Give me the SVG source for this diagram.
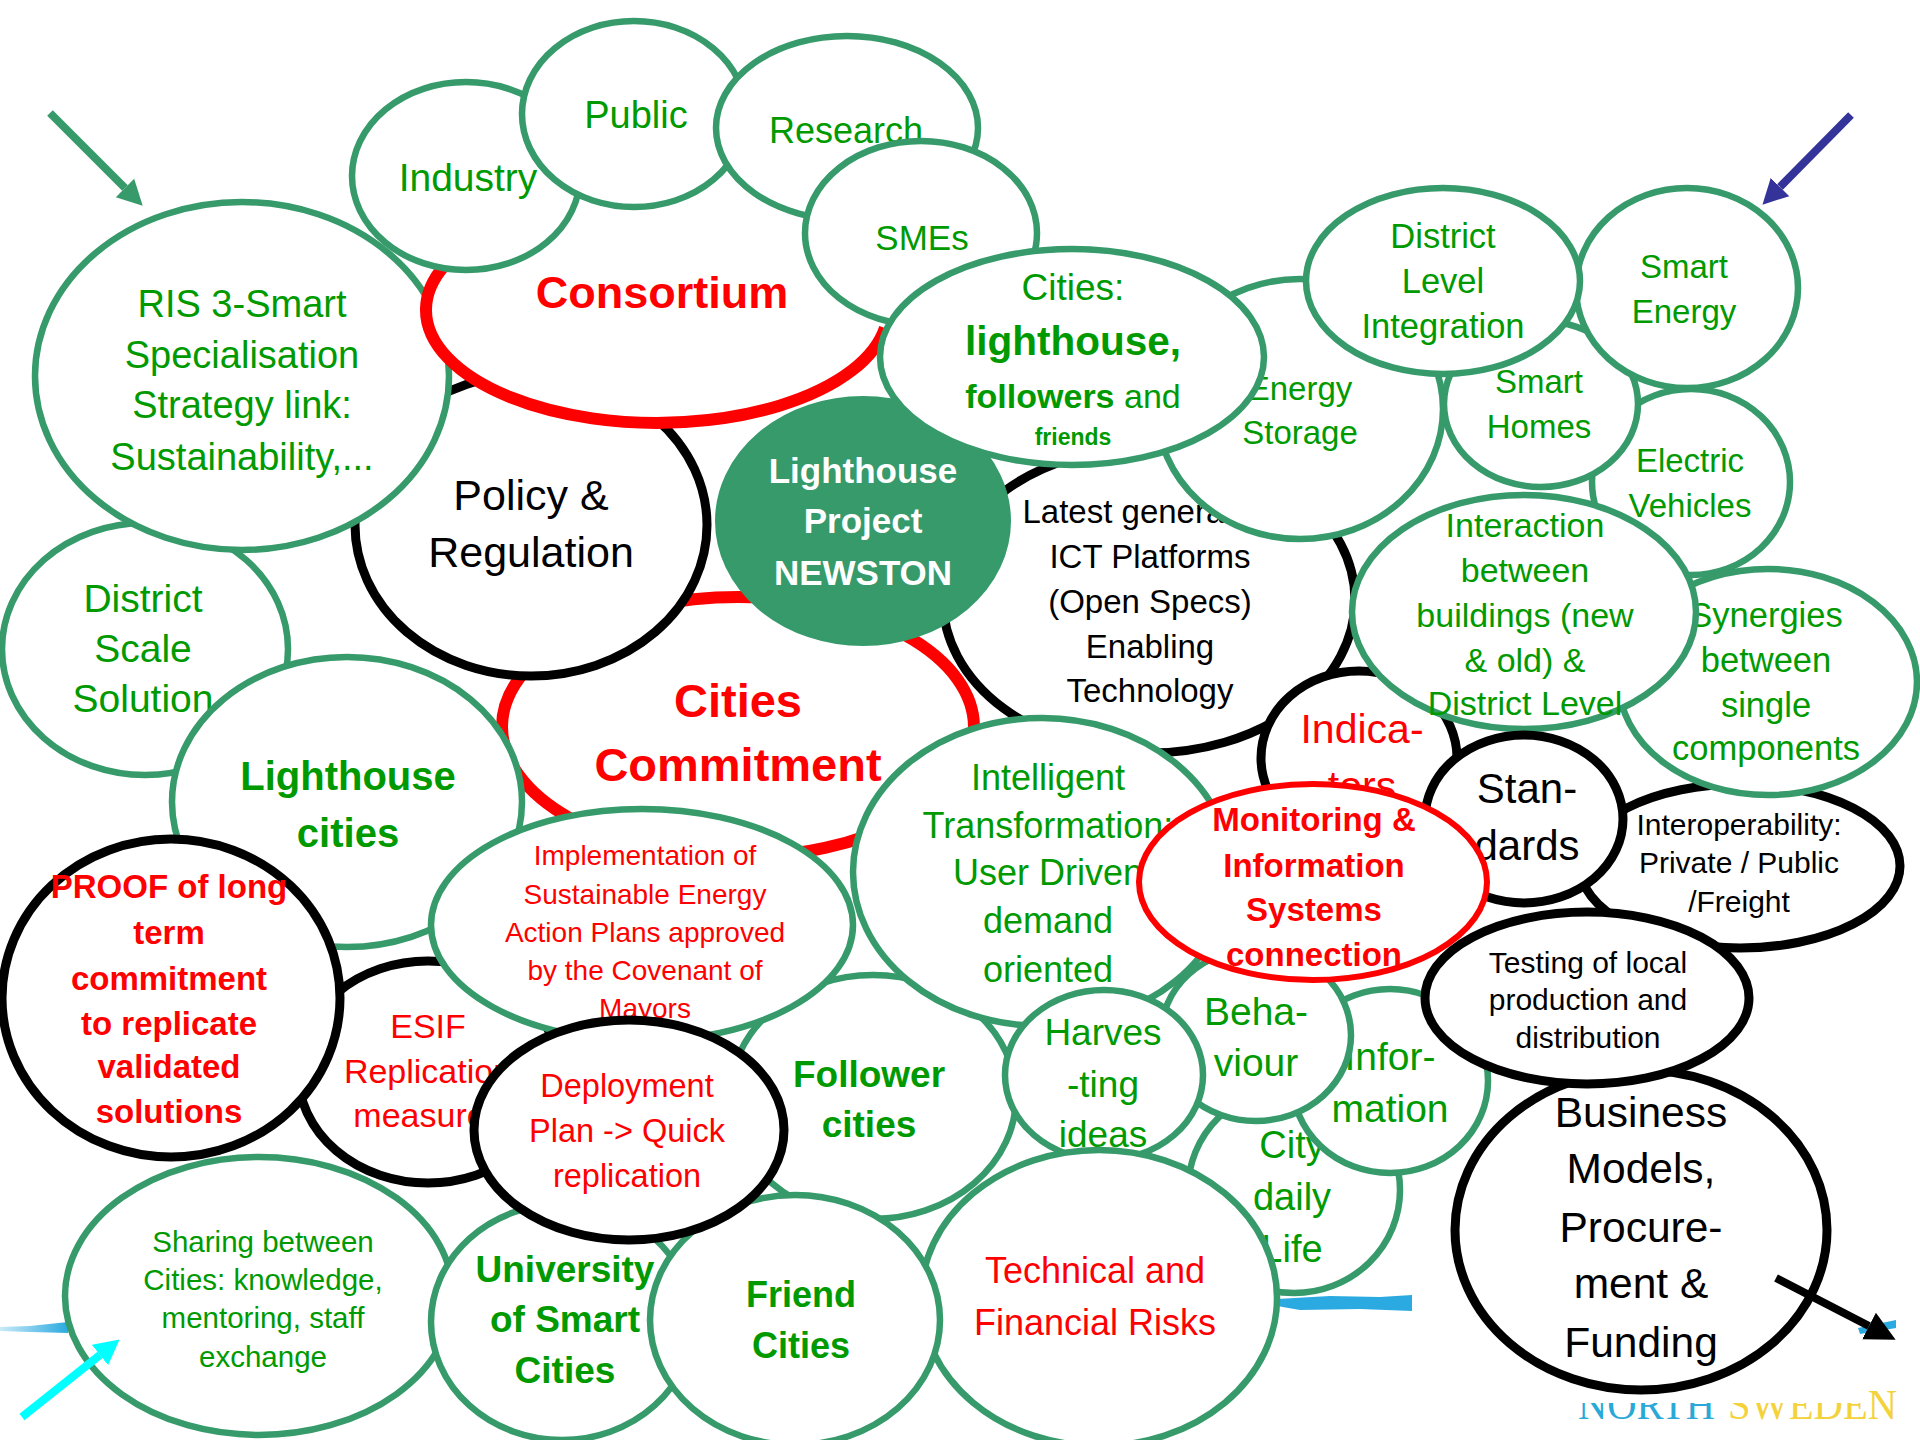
<svg xmlns="http://www.w3.org/2000/svg" width="1920" height="1440" viewBox="0 0 1920 1440">
  <style>
    .ng { fill: #fff; stroke: #369a6b; stroke-width: 6.5; }
    .nk { fill: #fff; stroke: #000; stroke-width: 9; }
    .nr { fill: #fff; stroke: #f00; stroke-width: 12; }
    .nr6 { fill: #fff; stroke: #f00; stroke-width: 6; }
    .rim { fill: none; stroke: #f00; stroke-width: 12; }
    .hub { fill: #369a6b; stroke: #369a6b; stroke-width: 2; }
    text { font-family: "Liberation Sans", Arial, sans-serif; text-anchor: middle; }
    .tg { fill: #009a00; }
    .tr { fill: #f00; }
    .tk { fill: #000; }
    .tw { fill: #fff; }
    .b { font-weight: bold; }
    .arrow { fill: none; stroke-width: 8; }
  </style>
  <defs>
    <marker id="head-green" markerUnits="userSpaceOnUse" viewBox="0 -14 26 28" refX="0" refY="0" markerWidth="26" markerHeight="28" orient="auto">
      <path d="M0,-13 L25,0 L0,13 z" fill="#369a6b"/>
    </marker>
    <marker id="head-blue" markerUnits="userSpaceOnUse" viewBox="0 -14 26 28" refX="0" refY="0" markerWidth="26" markerHeight="28" orient="auto">
      <path d="M0,-13 L25,0 L0,13 z" fill="#333399"/>
    </marker>
    <marker id="head-cyan" markerUnits="userSpaceOnUse" viewBox="0 -14 26 28" refX="0" refY="0" markerWidth="26" markerHeight="28" orient="auto">
      <path d="M0,-13 L25,0 L0,13 z" fill="#00ffff"/>
    </marker>
    <marker id="head-black" markerUnits="userSpaceOnUse" viewBox="0 -16 31 32" refX="0" refY="0" markerWidth="31" markerHeight="32" orient="auto">
      <path d="M0,-15 L30,0 L0,15 z" fill="#000"/>
    </marker>
    <linearGradient id="brush-fade" x1="0" y1="0" x2="1" y2="0">
      <stop offset="0" stop-color="#2aaae0" stop-opacity="0.25"/>
      <stop offset="1" stop-color="#2aaae0" stop-opacity="1"/>
    </linearGradient>
    <clipPath id="logo-clip">
      <rect x="1560" y="1403" width="360" height="37"/>
      <rect x="1866" y="1380" width="54" height="60"/>
    </clipPath>
  </defs>

  <!-- brush strokes behind the bubbles -->
  <g id="brush">
    <polygon points="0,1327 30,1326 68,1322 68,1333 30,1332 0,1331" fill="url(#brush-fade)"/>
    <polygon points="1277,1299 1330,1296 1380,1297 1412,1295 1412,1311 1360,1309 1300,1310 1277,1306" fill="#2aaae0"/>
    <polygon points="1858,1328 1896,1320 1896,1328 1860,1334" fill="#2aaae0"/>
  </g>

  <g id="cities-commitment">
    <ellipse class="nr" cx="738" cy="727" rx="236" ry="130"/>
    <text class="tr b" font-size="47" x="738" y="717">Cities</text>
    <text class="tr b" font-size="47" x="738" y="781">Commitment</text>
  </g>

  <g id="policy">
    <ellipse class="nk" cx="531" cy="525" rx="176" ry="151"/>
    <text class="tk" font-size="43" x="531" y="510">Policy &amp;</text>
    <text class="tk" font-size="43" x="531" y="567">Regulation</text>
  </g>

  <g id="district-scale">
    <ellipse class="ng" cx="145" cy="649" rx="143" ry="126"/>
    <text class="tg" font-size="39" x="143" y="612">District</text>
    <text class="tg" font-size="39" x="143" y="662">Scale</text>
    <text class="tg" font-size="39" x="143" y="712">Solution</text>
  </g>

  <g id="ris3">
    <ellipse class="ng" cx="242" cy="376" rx="207" ry="174"/>
    <text class="tg" font-size="38" x="242" y="317">RIS 3-Smart</text>
    <text class="tg" font-size="38" x="242" y="368">Specialisation</text>
    <text class="tg" font-size="38" x="242" y="418">Strategy link:</text>
    <text class="tg" font-size="38" x="242" y="470">Sustainability,...</text>
  </g>

  <!-- the red rim shows only on its lower side; the top runs under the partner bubbles -->
  <g id="consortium">
    <ellipse cx="657" cy="310" rx="231" ry="113" fill="#fff"/>
    <path class="rim" d="M445,265 A231,113 0 1 0 885,328"/>
    <text class="tr b" font-size="45" x="662" y="308">Consortium</text>
  </g>

  <g id="industry">
    <ellipse class="ng" cx="466" cy="176" rx="114" ry="94"/>
    <text class="tg" font-size="39" x="468" y="191">Industry</text>
  </g>

  <g id="public">
    <ellipse class="ng" cx="634" cy="114" rx="112" ry="93"/>
    <text class="tg" font-size="38" x="636" y="128">Public</text>
  </g>

  <g id="research">
    <ellipse class="ng" cx="847" cy="128" rx="131" ry="92"/>
    <text class="tg" font-size="36" x="846" y="143">Research</text>
  </g>

  <g id="smes">
    <ellipse class="ng" cx="921" cy="233" rx="116" ry="92"/>
    <text class="tg" font-size="35" x="922" y="250">SMEs</text>
  </g>

  <g id="ict-platforms">
    <ellipse class="nk" cx="1149" cy="600" rx="206" ry="153"/>
    <text class="tk" font-size="33" x="1150" y="523">Latest generation</text>
    <text class="tk" font-size="33" x="1150" y="568">ICT Platforms</text>
    <text class="tk" font-size="33" x="1150" y="613">(Open Specs)</text>
    <text class="tk" font-size="33" x="1150" y="658">Enabling</text>
    <text class="tk" font-size="33" x="1150" y="702">Technology</text>
  </g>

  <g id="lighthouse-project">
    <ellipse class="hub" cx="863" cy="521" rx="147" ry="124"/>
    <text class="tw b" font-size="35" x="863" y="483">Lighthouse</text>
    <text class="tw b" font-size="35" x="863" y="533">Project</text>
    <text class="tw b" font-size="35" x="863" y="585">NEWSTON</text>
  </g>

  <g id="energy-storage">
    <ellipse class="ng" cx="1300" cy="409" rx="143" ry="130"/>
    <text class="tg" font-size="33" x="1300" y="400">Energy</text>
    <text class="tg" font-size="33" x="1300" y="444">Storage</text>
  </g>

  <g id="electric-vehicles">
    <ellipse class="ng" cx="1691" cy="482" rx="99" ry="93"/>
    <text class="tg" font-size="33" x="1690" y="472">Electric</text>
    <text class="tg" font-size="33" x="1690" y="517">Vehicles</text>
  </g>

  <g id="smart-homes">
    <ellipse class="ng" cx="1541" cy="404" rx="97" ry="83"/>
    <text class="tg" font-size="33" x="1539" y="393">Smart</text>
    <text class="tg" font-size="33" x="1539" y="438">Homes</text>
  </g>

  <g id="smart-energy">
    <ellipse class="ng" cx="1687" cy="288" rx="111" ry="100"/>
    <text class="tg" font-size="33" x="1684" y="278">Smart</text>
    <text class="tg" font-size="33" x="1684" y="323">Energy</text>
  </g>

  <g id="district-level">
    <ellipse class="ng" cx="1443" cy="281" rx="137" ry="93"/>
    <text class="tg" font-size="34.5" x="1443" y="248">District</text>
    <text class="tg" font-size="34.5" x="1443" y="293">Level</text>
    <text class="tg" font-size="34.5" x="1443" y="338">Integration</text>
  </g>

  <g id="cities-lighthouse">
    <ellipse class="ng" cx="1072" cy="357" rx="192" ry="108"/>
    <text class="tg" font-size="37" x="1073" y="300">Cities:</text>
    <text class="tg b" font-size="40.5" x="1073" y="355">lighthouse,</text>
    <text class="tg" font-size="34" x="1073" y="408"><tspan class="b">followers</tspan> and</text>
    <text class="tg b" font-size="23" x="1073" y="445">friends</text>
  </g>

  <g id="interoperability">
    <ellipse class="nk" cx="1740" cy="866" rx="160" ry="82"/>
    <text class="tk" font-size="30" x="1739" y="835">Interoperability:</text>
    <text class="tk" font-size="30" x="1739" y="873">Private / Public</text>
    <text class="tk" font-size="30" x="1739" y="912">/Freight</text>
  </g>

  <g id="synergies">
    <ellipse class="ng" cx="1768" cy="682" rx="149" ry="113"/>
    <text class="tg" font-size="34.5" x="1766" y="627">Synergies</text>
    <text class="tg" font-size="34.5" x="1766" y="672">between</text>
    <text class="tg" font-size="34.5" x="1766" y="717">single</text>
    <text class="tg" font-size="34.5" x="1766" y="760">components</text>
  </g>

  <g id="indicators">
    <ellipse class="nk" cx="1359" cy="758" rx="98" ry="87"/>
    <text class="tr" font-size="41" x="1362" y="743">Indica-</text>
    <text class="tr" font-size="41" x="1362" y="800">tors</text>
  </g>

  <g id="interaction">
    <ellipse class="ng" cx="1524" cy="612" rx="172" ry="117"/>
    <text class="tg" font-size="34" x="1525" y="537">Interaction</text>
    <text class="tg" font-size="34" x="1525" y="582">between</text>
    <text class="tg" font-size="34" x="1525" y="627">buildings (new</text>
    <text class="tg" font-size="34" x="1525" y="672">&amp; old) &amp;</text>
    <text class="tg" font-size="34" x="1525" y="715">District Level</text>
  </g>

  <g id="standards">
    <ellipse class="nk" cx="1524" cy="819" rx="99" ry="84"/>
    <text class="tk" font-size="42" x="1527" y="803">Stan-</text>
    <text class="tk" font-size="42" x="1527" y="860">dards</text>
  </g>

  <g id="lighthouse-cities">
    <ellipse class="ng" cx="347" cy="802" rx="175" ry="145"/>
    <text class="tg b" font-size="40" x="348" y="790">Lighthouse</text>
    <text class="tg b" font-size="40" x="348" y="847">cities</text>
  </g>

  <g id="follower-cities">
    <ellipse class="ng" cx="873" cy="1097" rx="143" ry="122"/>
    <text class="tg b" font-size="37" x="869" y="1087">Follower</text>
    <text class="tg b" font-size="37" x="869" y="1137">cities</text>
  </g>

  <g id="intelligent-transformation">
    <ellipse class="ng" cx="1042" cy="872" rx="189" ry="154"/>
    <text class="tg" font-size="36" x="1048" y="790">Intelligent</text>
    <text class="tg" font-size="36" x="1048" y="838">Transformation:</text>
    <text class="tg" font-size="36" x="1048" y="885">User Driven</text>
    <text class="tg" font-size="36" x="1048" y="933">demand</text>
    <text class="tg" font-size="36" x="1048" y="982">oriented</text>
  </g>

  <g id="city-daily-life">
    <ellipse class="ng" cx="1294" cy="1190" rx="106" ry="103"/>
    <text class="tg" font-size="38" x="1292" y="1158">City</text>
    <text class="tg" font-size="38" x="1292" y="1210">daily</text>
    <text class="tg" font-size="38" x="1292" y="1262">Life</text>
  </g>

  <g id="information">
    <ellipse class="ng" cx="1390" cy="1081" rx="98" ry="92"/>
    <text class="tg" font-size="39" x="1390" y="1070">Infor-</text>
    <text class="tg" font-size="39" x="1390" y="1122">mation</text>
  </g>

  <g id="behaviour">
    <ellipse class="ng" cx="1256" cy="1035" rx="95" ry="86"/>
    <text class="tg" font-size="39" x="1256" y="1025">Beha-</text>
    <text class="tg" font-size="39" x="1256" y="1076">viour</text>
  </g>

  <g id="harvesting">
    <ellipse class="ng" cx="1104" cy="1075" rx="99" ry="85"/>
    <text class="tg" font-size="37" x="1103" y="1045">Harves</text>
    <text class="tg" font-size="37" x="1103" y="1097">-ting</text>
    <text class="tg" font-size="37" x="1103" y="1147">ideas</text>
  </g>

  <g id="monitoring">
    <ellipse class="nr6" cx="1313" cy="882" rx="174" ry="98"/>
    <text class="tr b" font-size="33" x="1314" y="831">Monitoring &amp;</text>
    <text class="tr b" font-size="33" x="1314" y="877">Information</text>
    <text class="tr b" font-size="33" x="1314" y="921">Systems</text>
    <text class="tr b" font-size="33" x="1314" y="966">connection</text>
  </g>

  <g id="esif">
    <ellipse class="nk" cx="428" cy="1072" rx="130" ry="111"/>
    <text class="tr" font-size="34" x="428" y="1038">ESIF</text>
    <text class="tr" font-size="34" x="428" y="1083">Replication</text>
    <text class="tr" font-size="34" x="428" y="1127">measures</text>
  </g>

  <g id="proof">
    <ellipse class="nk" cx="171" cy="998" rx="169" ry="159"/>
    <text class="tr b" font-size="33" x="169" y="898">PROOF of long</text>
    <text class="tr b" font-size="33" x="169" y="944">term</text>
    <text class="tr b" font-size="33" x="169" y="990">commitment</text>
    <text class="tr b" font-size="33" x="169" y="1035">to replicate</text>
    <text class="tr b" font-size="33" x="169" y="1078">validated</text>
    <text class="tr b" font-size="33" x="169" y="1123">solutions</text>
  </g>

  <g id="implementation">
    <ellipse class="ng" cx="642" cy="925" rx="211" ry="116"/>
    <text class="tr" font-size="28" x="645" y="865">Implementation of</text>
    <text class="tr" font-size="28" x="645" y="904">Sustainable Energy</text>
    <text class="tr" font-size="28" x="645" y="942">Action Plans approved</text>
    <text class="tr" font-size="28" x="645" y="980">by the Covenant of</text>
    <text class="tr" font-size="28" x="645" y="1018">Mayors</text>
  </g>

  <g id="sharing">
    <ellipse class="ng" cx="259" cy="1296" rx="194" ry="139"/>
    <text class="tg" font-size="29.5" x="263" y="1252">Sharing between</text>
    <text class="tg" font-size="29.5" x="263" y="1290">Cities: knowledge,</text>
    <text class="tg" font-size="29.5" x="263" y="1328">mentoring, staff</text>
    <text class="tg" font-size="29.5" x="263" y="1367">exchange</text>
  </g>

  <g id="risks">
    <ellipse class="ng" cx="1099" cy="1298" rx="178" ry="148"/>
    <text class="tr" font-size="36" x="1095" y="1283">Technical and</text>
    <text class="tr" font-size="36" x="1095" y="1335">Financial Risks</text>
  </g>

  <g id="university">
    <ellipse class="ng" cx="562" cy="1322" rx="131" ry="118"/>
    <text class="tg b" font-size="37" x="565" y="1282">University</text>
    <text class="tg b" font-size="37" x="565" y="1332">of Smart</text>
    <text class="tg b" font-size="37" x="565" y="1383">Cities</text>
  </g>

  <g id="friend-cities">
    <ellipse class="ng" cx="795" cy="1320" rx="145" ry="125"/>
    <text class="tg b" font-size="36" x="801" y="1307">Friend</text>
    <text class="tg b" font-size="36" x="801" y="1358">Cities</text>
  </g>

  <g id="deployment">
    <ellipse class="nk" cx="629" cy="1130" rx="155" ry="110"/>
    <text class="tr" font-size="32.5" x="627" y="1097">Deployment</text>
    <text class="tr" font-size="32.5" x="627" y="1142">Plan -&gt; Quick</text>
    <text class="tr" font-size="32.5" x="627" y="1187">replication</text>
  </g>

  <g id="business-models">
    <ellipse class="nk" cx="1641" cy="1230" rx="186" ry="160"/>
    <text class="tk" font-size="42.5" x="1641" y="1127">Business</text>
    <text class="tk" font-size="42.5" x="1641" y="1183">Models,</text>
    <text class="tk" font-size="42.5" x="1641" y="1242">Procure-</text>
    <text class="tk" font-size="42.5" x="1641" y="1298">ment &amp;</text>
    <text class="tk" font-size="42.5" x="1641" y="1357">Funding</text>
  </g>

  <g id="testing">
    <ellipse class="nk" cx="1587" cy="998" rx="162" ry="86"/>
    <text class="tk" font-size="30" x="1588" y="973">Testing of local</text>
    <text class="tk" font-size="30" x="1588" y="1010">production and</text>
    <text class="tk" font-size="30" x="1588" y="1048">distribution</text>
  </g>

  <!-- pointer arrows -->
  <g id="connectors">
    <line class="arrow" x1="50" y1="113" x2="125" y2="188" stroke="#369a6b" marker-end="url(#head-green)"/>
    <line class="arrow" x1="1851" y1="115" x2="1780" y2="187" stroke="#333399" marker-end="url(#head-blue)"/>
    <line class="arrow" x1="22" y1="1417" x2="100" y2="1355" stroke="#00ffff" marker-end="url(#head-cyan)"/>
    <line class="arrow" x1="1776" y1="1278" x2="1869" y2="1326" stroke="#000" marker-end="url(#head-black)"/>
  </g>

  <!-- logo text, partly covered along its top edge -->
  <g id="logo" clip-path="url(#logo-clip)">
    <text x="1578" y="1419" font-size="42" textLength="137" lengthAdjust="spacingAndGlyphs" style="font-family:'Liberation Serif',serif;text-anchor:start" fill="#2aa9d8">NORTH</text>
    <text x="1728" y="1419" font-size="42" textLength="169" lengthAdjust="spacingAndGlyphs" style="font-family:'Liberation Serif',serif;text-anchor:start" fill="#f3d23c">SWEDEN</text>
  </g>
</svg>
